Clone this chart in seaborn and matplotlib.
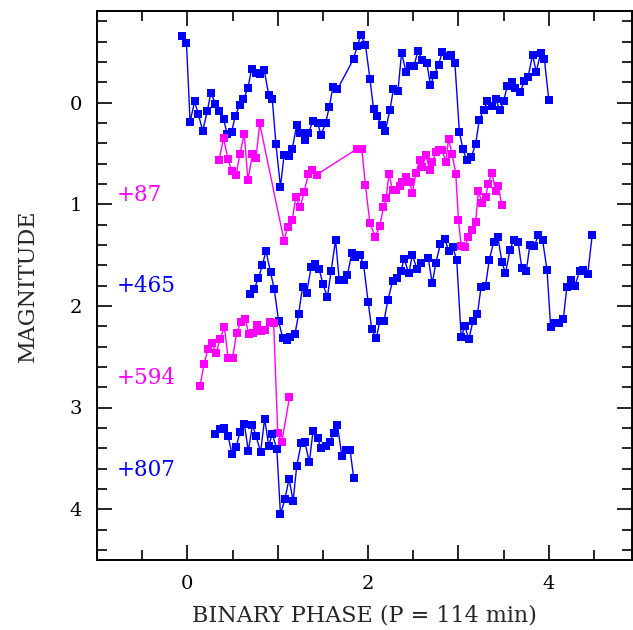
import matplotlib
matplotlib.use("Agg")
import matplotlib.pyplot as plt
import seaborn as sns
import pandas as pd
from matplotlib.ticker import MultipleLocator, FuncFormatter

# ---- data ----
x1 = [-0.06, -0.01, 0.03, 0.08, 0.12, 0.17, 0.22, 0.26, 0.31, 0.35, 0.40, 0.44, 0.49, 0.53, 0.58,
      0.62, 0.67, 0.71, 0.76, 0.80, 0.85, 0.90, 0.94, 0.98, 1.03, 1.07, 1.12, 1.16, 1.21, 1.25,
      1.30, 1.34, 1.39, 1.44, 1.48, 1.53, 1.57, 1.61, 1.66, 1.84, 1.88, 1.92, 1.97, 2.02, 2.06,
      2.10, 2.15, 2.19, 2.24, 2.28, 2.33, 2.37, 2.42, 2.46, 2.51, 2.55, 2.60, 2.65, 2.69, 2.73,
      2.78, 2.82, 2.87, 2.92, 2.96, 3.01, 3.05, 3.09, 3.14, 3.19, 3.23, 3.28, 3.32, 3.37, 3.41,
      3.46, 3.50, 3.54, 3.59, 3.63, 3.68, 3.73, 3.77, 3.82, 3.86, 3.91, 3.95, 4.00]
y1 = [-0.65, -0.585, 0.19, -0.01, 0.11, 0.28, 0.085, -0.095, 0.01, 0.08, 0.16, 0.31, 0.29, 0.13, 0.026,
      -0.03, -0.14, -0.33, -0.29, -0.28, -0.32, -0.075, -0.03, 0.41, 0.83, 0.52, 0.53, 0.46, 0.22, 0.30,
      0.37, 0.30, 0.18, 0.20, 0.32, 0.20, 0.046, -0.15, -0.13, -0.43, -0.56, -0.66, -0.57, -0.235, 0.065,
      0.137, 0.225, 0.28, 0.078, -0.13, -0.11, -0.49, -0.30, -0.36, -0.36, -0.51, -0.415, -0.385, -0.17, -0.27,
      -0.37, -0.50, -0.46, -0.47, -0.39, 0.29, 0.46, 0.57, 0.54, 0.41, 0.17, 0.07, -0.01, 0.036, -0.03,
      0.07, -0.016, -0.16, -0.20, -0.14, -0.10, -0.21, -0.25, -0.47, -0.30, -0.49, -0.43, -0.02]

x2 = [0.35, 0.40, 0.45, 0.49, 0.54, 0.58, 0.63, 0.67, 0.72, 0.76, 0.80, 1.07, 1.11, 1.16, 1.20,
      1.25, 1.29, 1.34, 1.38, 1.43, 1.88, 1.93, 1.97, 2.02, 2.08, 2.13, 2.17, 2.20, 2.23, 2.27,
      2.31, 2.35, 2.38, 2.42, 2.46, 2.49, 2.53, 2.57, 2.60, 2.64, 2.68, 2.71, 2.75, 2.78, 2.82,
      2.86, 2.89, 2.93, 2.97, 3.00, 3.03, 3.07, 3.11, 3.15, 3.19, 3.22, 3.26, 3.30, 3.33, 3.37,
      3.41, 3.44, 3.48]
y2 = [0.57, 0.35, 0.56, 0.67, 0.71, 0.51, 0.31, 0.765, 0.51, 0.546, 0.206, 1.36, 1.22, 1.16, 0.93,
      1.03, 0.88, 0.706, 0.66, 0.71, 0.455, 0.455, 0.81, 1.19, 1.32, 1.21, 1.03, 0.94, 0.70, 0.86,
      0.86, 0.82, 0.78, 0.73, 0.78, 0.89, 0.69, 0.57, 0.63, 0.52, 0.66, 0.585, 0.49, 0.47, 0.47,
      0.585, 0.36, 0.51, 0.70, 1.16, 1.41, 1.42, 1.32, 1.25, 1.18, 0.87, 0.99, 0.93, 0.80, 0.69,
      0.87, 0.82, 1.01]

x3 = [0.69, 0.74, 0.785, 0.83, 0.87, 0.92, 0.96, 1.01, 1.055, 1.10, 1.14, 1.19, 1.23, 1.275, 1.32,
      1.37, 1.41, 1.46, 1.50, 1.55, 1.59, 1.64, 1.68, 1.73, 1.77, 1.82, 1.86, 1.91, 1.95, 2.00,
      2.04, 2.09, 2.13, 2.175, 2.22, 2.27, 2.315, 2.36, 2.40, 2.45, 2.49, 2.54, 2.585, 2.665, 2.71,
      2.75, 2.80, 2.85, 2.89, 2.935, 2.98, 3.03, 3.07, 3.115, 3.16, 3.21, 3.25, 3.30, 3.34, 3.39,
      3.435, 3.48, 3.52, 3.57, 3.61, 3.66, 3.70, 3.75, 3.79, 3.84, 3.885, 3.93, 3.98, 4.02, 4.065,
      4.115, 4.16, 4.20, 4.25, 4.29, 4.34, 4.38, 4.43, 4.48]
y3 = [1.88, 1.83, 1.73, 1.60, 1.46, 1.67, 1.83, 2.15, 2.32, 2.34, 2.31, 2.28, 2.085, 1.81, 1.87,
      1.62, 1.59, 1.64, 1.79, 1.91, 1.66, 1.35, 1.745, 1.745, 1.70, 1.48, 1.52, 1.50, 1.595, 1.96,
      2.23, 2.32, 2.15, 2.15, 1.94, 1.76, 1.73, 1.66, 1.54, 1.68, 1.50, 1.64, 1.58, 1.53, 1.78,
      1.575, 1.39, 1.34, 1.46, 1.42, 1.545, 2.31, 2.20, 2.33, 2.15, 2.08, 1.81, 1.80, 1.55, 1.37,
      1.32, 1.565, 1.68, 1.45, 1.35, 1.37, 1.63, 1.66, 1.40, 1.41, 1.30, 1.35, 1.65, 2.21, 2.17,
      2.17, 2.13, 1.81, 1.75, 1.80, 1.66, 1.65, 1.69, 1.30]

x4 = [0.14, 0.185, 0.23, 0.27, 0.32, 0.36, 0.41, 0.45, 0.50, 0.545, 0.59, 0.64, 0.68, 0.73, 0.77,
      0.81, 0.86, 0.91, 0.955, 1.00, 1.045, 1.13]
y4 = [2.79, 2.57, 2.42, 2.37, 2.46, 2.33, 2.21, 2.51, 2.51, 2.27, 2.16, 2.13, 2.28, 2.27, 2.19,
      2.25, 2.24, 2.16, 2.17, 3.25, 3.34, 2.90]

x5 = [0.31, 0.357, 0.40, 0.45, 0.495, 0.54, 0.58, 0.63, 0.675, 0.72, 0.76, 0.81, 0.855, 0.90, 0.94,
      0.99, 1.03, 1.08, 1.125, 1.17, 1.21, 1.26, 1.30, 1.35, 1.39, 1.44, 1.48, 1.53, 1.575, 1.62,
      1.66, 1.71, 1.75, 1.80, 1.84]
y5 = [3.26, 3.21, 3.20, 3.28, 3.46, 3.39, 3.245, 3.16, 3.43, 3.17, 3.28, 3.44, 3.11, 3.375, 3.26,
      3.41, 4.05, 3.90, 3.70, 3.92, 3.575, 3.35, 3.34, 3.54, 3.23, 3.30, 3.40, 3.38, 3.34, 3.25,
      3.17, 3.48, 3.42, 3.415, 3.69]

offset_labels = ["+87", "+465", "+594", "+807"]
offset_label_y = [0.91, 1.80, 2.71, 3.61]

BLUE = "#0000ff"
MAGENTA = "#ff00ff"
series = [(x1, y1, BLUE), (x2, y2, MAGENTA), (x3, y3, BLUE), (x4, y4, MAGENTA), (x5, y5, BLUE)]
label_colors = [MAGENTA, BLUE, MAGENTA, BLUE]

# ---- plot ----
sns.set_theme(style="white")
plt.rcParams["font.family"] = ["DejaVu Serif"]

fig = plt.figure(figsize=(6.33, 6.30), dpi=100)
ax = fig.add_axes([97 / 633, 1 - 560 / 630, (632 - 97) / 633, (560 - 11) / 630])

for xs, ys, col in series:
    df = pd.DataFrame({"phase": xs, "mag": ys})
    sns.lineplot(data=df, x="phase", y="mag", sort=False, estimator=None, ax=ax,
                 color=col, linewidth=1.0, marker="s", markersize=5.5,
                 markeredgewidth=0, markerfacecolor=col)

for lab, yy, col in zip(offset_labels, offset_label_y, label_colors):
    ax.text(-0.78, yy, lab, color=col, fontsize=15.5, va="center", ha="left")

ax.set_xlim(-1.0, 4.92)
ax.set_ylim(4.5, -0.9)

ax.xaxis.set_major_locator(MultipleLocator(1))
ax.xaxis.set_minor_locator(MultipleLocator(0.5))
ax.yaxis.set_major_locator(MultipleLocator(1))
ax.yaxis.set_minor_locator(MultipleLocator(0.2))
ax.xaxis.set_major_formatter(FuncFormatter(lambda v, p: f"{int(round(v))}" if round(v) % 2 == 0 and v >= 0 else ""))
ax.yaxis.set_major_formatter(FuncFormatter(lambda v, p: f"{int(round(v))}" if v >= 0 else ""))

ax.tick_params(which="both", direction="in", top=True, right=True, bottom=True, left=True,
               colors="black", width=1.2)
ax.tick_params(which="major", length=11, labelsize=14, pad=11)
ax.tick_params(which="minor", length=7)

for sp in ax.spines.values():
    sp.set_color("black")
    sp.set_linewidth(1.4)

ax.set_xlabel("BINARY PHASE (P = 114 min)", fontsize=16, labelpad=8)
ax.set_ylabel("MAGNITUDE", fontsize=16, labelpad=22)

fig.savefig("out.png", dpi=100)
